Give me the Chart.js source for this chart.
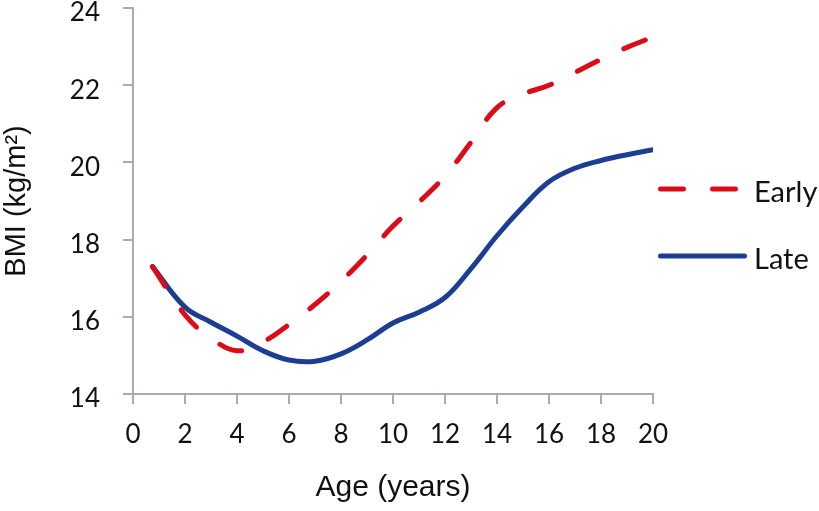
<!DOCTYPE html>
<html>
<head>
<meta charset="utf-8">
<script src="https://cdn.jsdelivr.net/npm/chart.js@4"></script>
<style>
    html, body { margin: 0; padding: 0; background: #fff; }
    canvas { display: block; }
</style>
</head>
<body>
<canvas id="myChart" width="819" height="511"></canvas>
<script>
var ages = [0.75, 2, 3, 4, 5, 6, 7, 8, 9, 10, 11, 12, 13, 14, 15, 16, 17, 18, 19, 20];
var earlyBmi = [17.3, 16.05, 15.45, 15.12, 15.35, 15.8, 16.32, 16.92, 17.6, 18.35, 18.97, 19.65, 20.52, 21.42, 21.77, 22.0, 22.33, 22.67, 22.98, 23.25];
var lateBmi = [17.3, 16.25, 15.86, 15.5, 15.12, 14.88, 14.85, 15.04, 15.4, 15.84, 16.12, 16.5, 17.25, 18.1, 18.85, 19.5, 19.85, 20.05, 20.2, 20.33];
var seriesNames = ["Early", "Late"];
var xTicks = [0, 2, 4, 6, 8, 10, 12, 14, 16, 18, 20];
var yTicks = [14, 16, 18, 20, 22, 24];

var axisGray = '#a5adad';

function points(xs, ys) {
    return xs.map(function (x, i) {
        return {x: x, y: ys[i]};
    });
}

// legend drawn to the right of the plot, like the original figure
var sideLegend = {
    id: 'sideLegend',
    afterDraw: function (chart) {
        var ctx = chart.ctx;
        var rows = [189, 256];
        chart.data.datasets.forEach(function (ds, i) {
            var y = rows[i];
            ctx.save();
            ctx.strokeStyle = ds.borderColor;
            ctx.lineWidth = ds.borderWidth;
            ctx.lineCap = 'round';
            ctx.setLineDash(ds.borderDash || []);
            ctx.beginPath();
            ctx.moveTo(660.5, y);
            ctx.lineTo(744.5, y);
            ctx.stroke();
            ctx.setLineDash([]);
            ctx.fillStyle = '#111';
            ctx.font = '29px Lato';
            ctx.textBaseline = 'alphabetic';
            ctx.fillText(ds.label, 754, y + 13);
            ctx.restore();
        });
    }
};

var ctx = document.getElementById("myChart").getContext("2d");

var myChart = new Chart(ctx, {
    type: 'line',
    data: {
        datasets: [
            {
                label: seriesNames[0],
                data: points(ages, earlyBmi),
                borderColor: '#dc0b18',
                borderWidth: 5,
                borderDash: [23, 29],
                borderCapStyle: 'round',
                borderJoinStyle: 'round',
                pointRadius: 0,
                fill: false,
                tension: 0.4
            },
            {
                label: seriesNames[1],
                data: points(ages, lateBmi),
                borderColor: '#1b3e93',
                borderWidth: 5,
                borderCapStyle: 'round',
                borderJoinStyle: 'round',
                pointRadius: 0,
                fill: false,
                tension: 0.4
            }
        ]
    },
    options: {
        responsive: false,
        animation: false,
        layout: {
            padding: {top: 8, right: 166, bottom: 0, left: 0}
        },
        plugins: {
            legend: {display: false},
            tooltip: {enabled: false}
        },
        scales: {
            x: {
                type: 'linear',
                min: xTicks[0],
                max: xTicks[xTicks.length - 1],
                afterBuildTicks: function (scale) {
                    scale.ticks = xTicks.map(function (v) { return {value: v}; });
                },
                afterFit: function (scale) {
                    scale.height = 117;
                    scale.paddingLeft = 0;
                    scale.paddingRight = 0;
                },
                border: {display: true, color: axisGray, width: 2},
                grid: {
                    drawOnChartArea: false,
                    drawTicks: true,
                    tickLength: 10,
                    color: axisGray,
                    lineWidth: 2
                },
                ticks: {
                    color: '#111',
                    font: {family: 'Lato', size: 26},
                    padding: 15,
                    maxRotation: 0,
                    autoSkip: false
                },
                title: {
                    display: true,
                    text: 'Age (years)',
                    color: '#111',
                    font: {family: 'Liberation Sans', size: 30},
                    padding: {top: 0, bottom: 5}
                }
            },
            y: {
                type: 'linear',
                min: yTicks[0],
                max: yTicks[yTicks.length - 1],
                afterBuildTicks: function (scale) {
                    scale.ticks = yTicks.map(function (v) { return {value: v}; });
                },
                afterFit: function (scale) {
                    scale.width = 133;
                    scale.paddingTop = 0;
                    scale.paddingBottom = 0;
                },
                border: {display: true, color: axisGray, width: 2},
                grid: {
                    drawOnChartArea: false,
                    drawTicks: true,
                    tickLength: 10,
                    color: axisGray,
                    lineWidth: 2
                },
                ticks: {
                    color: '#111',
                    font: {family: 'Lato', size: 26},
                    padding: 23,
                    labelOffset: 5
                },
                title: {
                    display: true,
                    text: 'BMI (kg/m²)',
                    color: '#111',
                    font: {family: 'Liberation Sans', size: 29},
                    padding: {top: 0, bottom: 0}
                }
            }
        }
    },
    plugins: [sideLegend]
});
</script>
</body>
</html>
